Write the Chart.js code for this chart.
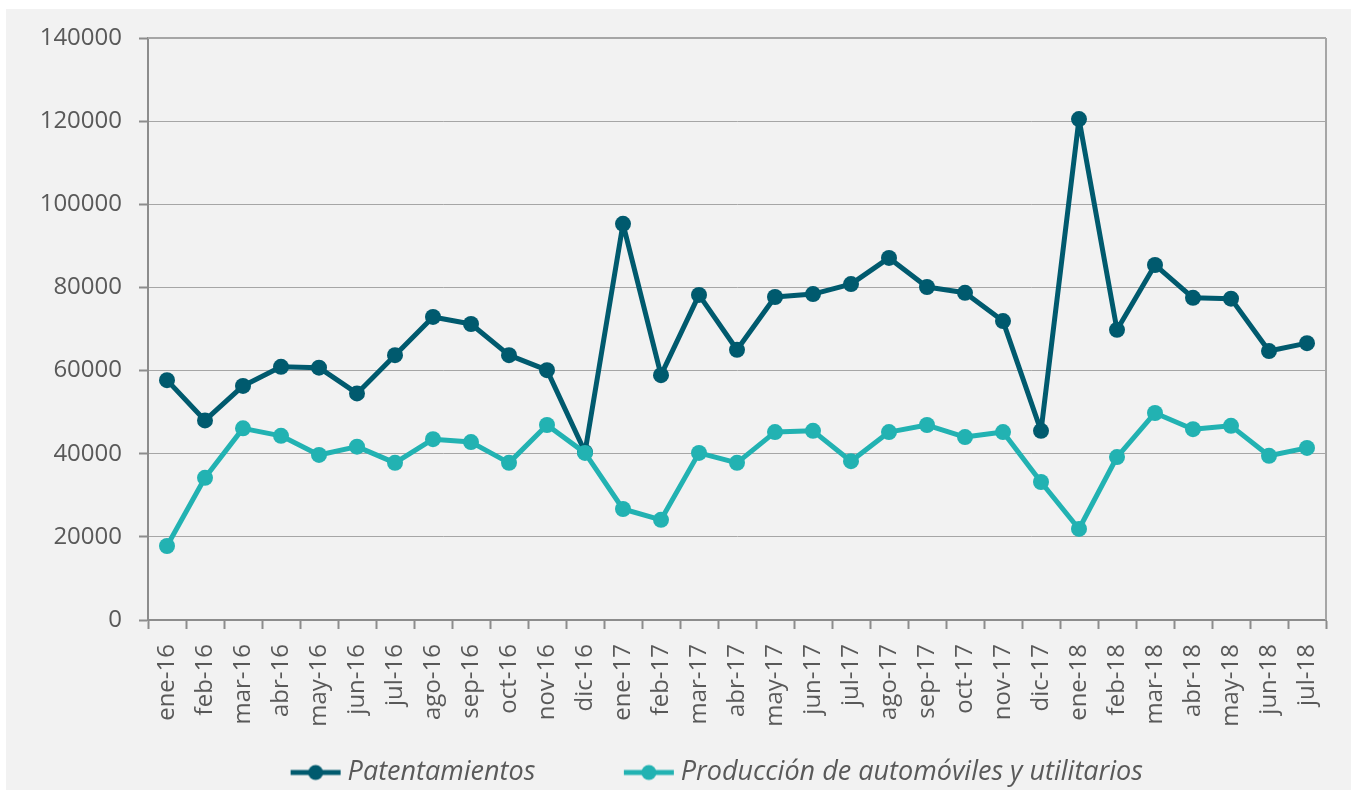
<!DOCTYPE html>
<html>
<head>
<meta charset="utf-8">
<script src="https://cdn.jsdelivr.net/npm/chart.js@4/dist/chart.umd.min.js"></script>
<style>
html,body{margin:0;padding:0;background:#ffffff;}
canvas{display:block;}
</style>
</head>
<body>
<canvas id="c" width="1357" height="796"></canvas>
<script>
const categories = ["ene-16","feb-16","mar-16","abr-16","may-16","jun-16","jul-16","ago-16","sep-16","oct-16","nov-16","dic-16",
  "ene-17","feb-17","mar-17","abr-17","may-17","jun-17","jul-17","ago-17","sep-17","oct-17","nov-17","dic-17",
  "ene-18","feb-18","mar-18","abr-18","may-18","jun-18","jul-18"];
const patentamientos = [57700,48000,56300,60900,60700,54500,63700,72900,71200,63700,60100,40400,
  95300,58900,78200,65000,77700,78400,80800,87100,80100,78700,71900,45500,
  120500,69800,85400,77500,77300,64700,66600];
const produccion = [17800,34200,46100,44300,39700,41700,37800,43500,42800,37800,46900,40200,
  26700,24100,40200,37800,45200,45500,38200,45200,46900,44000,45200,33200,
  21900,39200,49800,45900,46700,39500,41400];
const seriesNames = ["Patentamientos","Producción de automóviles y utilitarios"];
const seriesColors = ["#005a6e","#22b2b2"];
const yMin = 0, yMax = 140000, yStep = 20000;

const FONT = "'Open Sans', sans-serif";
const TEXT = "#595959";
const LEG_BOX = 122;

function legendIcon(color){
  const cv = document.createElement('canvas');
  const W = LEG_BOX + 15;
  cv.width = W; cv.height = 18;
  const g = cv.getContext('2d');
  g.strokeStyle = color; g.lineWidth = 5;
  g.beginPath(); g.moveTo(W-51,9); g.lineTo(W-1,9); g.stroke();
  g.fillStyle = color;
  g.beginPath(); g.arc(W-26,9,7.5,0,Math.PI*2); g.fill();
  return cv;
}
const icons = seriesColors.map(legendIcon);

const bgPlugin = {
  id: 'bg',
  beforeDraw(chart){
    const ctx = chart.ctx;
    ctx.save();
    ctx.fillStyle = '#ffffff';
    ctx.fillRect(0,0,chart.width,chart.height);
    ctx.fillStyle = '#f2f2f2';
    ctx.fillRect(6,9,1345,781);
    ctx.restore();
  },
  beforeDatasetsDraw(chart){
    const {ctx, chartArea:a} = chart;
    ctx.save();
    ctx.strokeStyle = '#a6a6a6';
    ctx.lineWidth = 2;
    ctx.beginPath();
    ctx.moveTo(a.left, a.top); ctx.lineTo(a.right, a.top);
    ctx.moveTo(a.right, a.top); ctx.lineTo(a.right, a.bottom);
    ctx.stroke();
    ctx.restore();
  }
};

new Chart(document.getElementById('c'), {
  type: 'line',
  data: {
    labels: categories,
    datasets: [
      { label: seriesNames[0], data: patentamientos, borderColor: seriesColors[0], backgroundColor: seriesColors[0],
        pointBackgroundColor: seriesColors[0], borderWidth: 5, borderJoinStyle: 'round', pointRadius: 8, pointBorderWidth: 0, tension: 0, order: 1 },
      { label: seriesNames[1], data: produccion, borderColor: seriesColors[1], backgroundColor: seriesColors[1],
        pointBackgroundColor: seriesColors[1], borderWidth: 5, borderJoinStyle: 'round', pointRadius: 8, pointBorderWidth: 0, tension: 0, order: 0 }
    ]
  },
  options: {
    responsive: false,
    devicePixelRatio: 1,
    animation: false,
    layout: { padding: { left: 29, top: 38, right: 31, bottom: 0 } },
    plugins: {
      tooltip: { enabled: false },
      legend: {
        position: 'bottom',
        labels: {
          usePointStyle: true,
          pointStyleWidth: LEG_BOX,
          padding: 10,
          color: TEXT,
          font: { family: FONT, size: 27, style: 'italic' },
          generateLabels(chart){
            return chart.data.datasets.map((ds,i)=>({
              text: ds.label, pointStyle: icons[i], fillStyle: ds.borderColor, strokeStyle: ds.borderColor,
              lineWidth: 0, hidden: false, datasetIndex: i, fontColor: TEXT
            }));
          }
        }
      }
    },
    scales: {
      x: {
        type: 'category',
        offset: true,
        afterFit(scale){ scale.height = 129; },
        grid: { display: true, offset: true, drawOnChartArea: false, drawTicks: true, tickLength: 9, tickColor: '#8c8c8c', tickWidth: 2, color: '#8c8c8c' },
        border: { display: true, color: '#8c8c8c', width: 2 },
        ticks: { autoSkip: false, minRotation: 90, maxRotation: 90, padding: 15, color: TEXT, font: { family: FONT, size: 24 } }
      },
      y: {
        min: yMin, max: yMax,
        afterFit(scale){ scale.width = 119; },
        grid: { color: '#a6a6a6', lineWidth: 1, borderDash: [1,2], tickBorderDash: [], tickLength: 9, tickColor: '#8c8c8c', tickWidth: 2 },
        border: { display: true, color: '#8c8c8c', width: 2 },
        ticks: { stepSize: yStep, padding: 17, color: TEXT, font: { family: FONT, size: 24 }, callback: v => String(v) }
      }
    }
  },
  plugins: [bgPlugin]
});
</script>
</body>
</html>
